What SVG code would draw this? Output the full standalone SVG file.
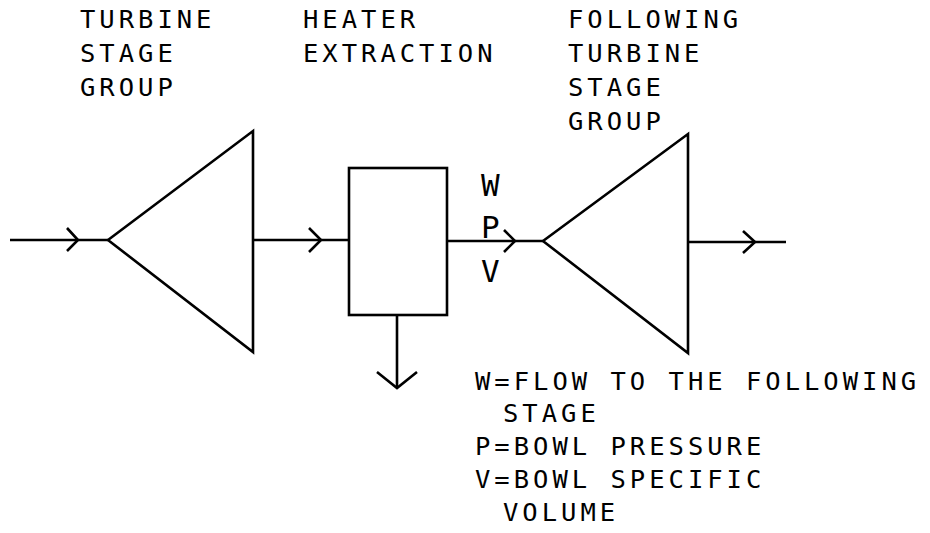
<svg xmlns="http://www.w3.org/2000/svg" width="930" height="533" viewBox="0 0 930 533">
<style>
.ln{fill:none;stroke:#000;stroke-width:2.6;stroke-linejoin:miter;stroke-linecap:butt}
.t{font-family:"DejaVu Sans Mono","Liberation Mono",monospace;font-size:25.5px;letter-spacing:4px;fill:#000}
.b{font-family:"DejaVu Sans Mono","Liberation Mono",monospace;font-size:31px;fill:#000}
</style>
<rect width="930" height="533" fill="#fff"/>
<g id="turbine1">
<polygon class="ln" points="108,240 253,131 253,352"/>
<text class="t" x="80" y="28">TURBINE</text>
<text class="t" x="80" y="62">STAGE</text>
<text class="t" x="80" y="96">GROUP</text>
</g>
<g id="heater">
<rect class="ln" x="349" y="168" width="98" height="147"/>
<text class="t" x="303" y="28">HEATER</text>
<text class="t" x="303" y="62">EXTRACTION</text>
</g>
<g id="turbine2">
<polygon class="ln" points="543,241 688,134 688,353"/>
<text class="t" x="568" y="28">FOLLOWING</text>
<text class="t" x="568" y="62">TURBINE</text>
<text class="t" x="568" y="96">STAGE</text>
<text class="t" x="568" y="130">GROUP</text>
</g>
<g id="connectors">
<line class="ln" x1="10" y1="240" x2="108" y2="240"/>
<polyline class="ln" points="67,228 78,240 67,251"/>
<line class="ln" x1="253" y1="240" x2="349" y2="240"/>
<polyline class="ln" points="309,228 321,240 309,252"/>
<line class="ln" x1="447" y1="241" x2="543" y2="241"/>
<polyline class="ln" points="504,230 515,241 504,252"/>
<line class="ln" x1="688" y1="242" x2="786" y2="242"/>
<polyline class="ln" points="743,231 755,242 743,253"/>
<line class="ln" x1="397" y1="315" x2="397" y2="388"/>
<polyline class="ln" points="377,372 397,388 417,372"/>
</g>
<g id="flow-labels">
<text class="b" x="481" y="196">W</text>
<text class="b" x="481" y="238">P</text>
<text class="b" x="481" y="282">V</text>
</g>
<g id="legend">
<text class="t" x="475" y="390">W=FLOW TO THE FOLLOWING</text>
<text class="t" x="503" y="422">STAGE</text>
<text class="t" x="475" y="455">P=BOWL PRESSURE</text>
<text class="t" x="475" y="488">V=BOWL SPECIFIC</text>
<text class="t" x="503" y="521">VOLUME</text>
</g>
</svg>
